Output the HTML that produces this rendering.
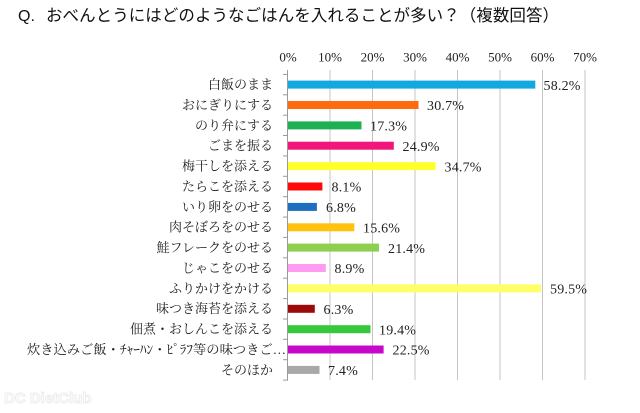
<!DOCTYPE html>
<html><head><meta charset="utf-8">
<style>
html,body{margin:0;padding:0;background:#fff;}
svg{display:block;}
.t{font-family:"Liberation Sans","Noto Sans CJK JP",sans-serif;}
.lab{font-family:"Liberation Serif","Noto Serif CJK SC",serif;font-size:13px;fill:#222;}
.val{font-family:"Liberation Serif","Noto Serif CJK SC",serif;font-size:14px;fill:#222;letter-spacing:0.2px;}
.tick{font-family:"Liberation Serif",serif;font-size:13px;fill:#222;}
</style></head>
<body>
<svg width="640" height="413" viewBox="0 0 640 413" xmlns="http://www.w3.org/2000/svg">
<rect width="640" height="413" fill="#fff"/>
<text x="18" y="21" class="t" font-size="16" fill="#111">Q.</text>
<text x="46" y="21" class="t" font-size="16.5" fill="#111" textLength="513" lengthAdjust="spacing">おべんとうにはどのようなごはんを入れることが多い？（複数回答）</text>

<!-- tick labels -->
<g class="tick" text-anchor="middle">
<text x="288" y="61.5">0%</text>
<text x="330" y="61.5">10%</text>
<text x="372.5" y="61.5">20%</text>
<text x="415" y="61.5">30%</text>
<text x="457.5" y="61.5">40%</text>
<text x="500" y="61.5">50%</text>
<text x="542.5" y="61.5">60%</text>
<text x="585" y="61.5">70%</text>
</g>

<!-- gridlines -->
<g stroke="#c4c4c4" stroke-width="1">
<line x1="330" y1="70" x2="330" y2="380"/>
<line x1="372.5" y1="70" x2="372.5" y2="380"/>
<line x1="415" y1="70" x2="415" y2="380"/>
<line x1="457.5" y1="70" x2="457.5" y2="380"/>
<line x1="500" y1="70" x2="500" y2="380"/>
<line x1="542.5" y1="70" x2="542.5" y2="380"/>
<line x1="585" y1="70" x2="585" y2="380"/>
</g>
<!-- axis -->
<g stroke="#9a9a9a" stroke-width="1">
<line x1="287.5" y1="70" x2="287.5" y2="380.5"/>
<line x1="283" y1="74.4" x2="288" y2="74.4"/>
<line x1="283" y1="94.8" x2="288" y2="94.8"/>
<line x1="283" y1="115.2" x2="288" y2="115.2"/>
<line x1="283" y1="135.5" x2="288" y2="135.5"/>
<line x1="283" y1="155.9" x2="288" y2="155.9"/>
<line x1="283" y1="176.3" x2="288" y2="176.3"/>
<line x1="283" y1="196.7" x2="288" y2="196.7"/>
<line x1="283" y1="217.1" x2="288" y2="217.1"/>
<line x1="283" y1="237.4" x2="288" y2="237.4"/>
<line x1="283" y1="257.8" x2="288" y2="257.8"/>
<line x1="283" y1="278.2" x2="288" y2="278.2"/>
<line x1="283" y1="298.6" x2="288" y2="298.6"/>
<line x1="283" y1="319" x2="288" y2="319"/>
<line x1="283" y1="339.3" x2="288" y2="339.3"/>
<line x1="283" y1="359.7" x2="288" y2="359.7"/>
<line x1="283" y1="380.1" x2="288" y2="380.1"/>
</g>

<!-- bars -->
<rect x="288" y="80.6" width="247.3" height="8" fill="#12A9E0"/>
<rect x="288" y="101" width="130.5" height="8" fill="#FF6A0F"/>
<rect x="288" y="121.4" width="73.5" height="8" fill="#1DB152"/>
<rect x="288" y="141.7" width="105.8" height="8" fill="#F0167A"/>
<rect x="288" y="162.1" width="147.5" height="8" fill="#FFFF2E"/>
<rect x="288" y="182.5" width="34.4" height="8" fill="#FF0A0A"/>
<rect x="288" y="202.9" width="28.9" height="8" fill="#1F6FC0"/>
<rect x="288" y="223.3" width="66.3" height="8" fill="#FFC20E"/>
<rect x="288" y="243.6" width="91" height="8" fill="#8FCF4F"/>
<rect x="288" y="264" width="37.8" height="8" fill="#FF9BF0"/>
<rect x="288" y="284.4" width="252.9" height="8" fill="#FFFF66"/>
<rect x="288" y="304.8" width="26.8" height="8" fill="#9C0A0A"/>
<rect x="288" y="325.2" width="82.5" height="8" fill="#36C73A"/>
<rect x="288" y="345.5" width="95.6" height="8" fill="#C808C8"/>
<rect x="288" y="365.9" width="31.5" height="8" fill="#A8A8A8"/>

<!-- value labels -->
<g class="val">
<text x="543.5" y="89.8">58.2%</text>
<text x="427" y="110.2">30.7%</text>
<text x="370" y="130.6">17.3%</text>
<text x="402.5" y="150.9">24.9%</text>
<text x="444.5" y="171.3">34.7%</text>
<text x="331.5" y="191.7">8.1%</text>
<text x="326" y="212.1">6.8%</text>
<text x="363" y="232.5">15.6%</text>
<text x="388" y="252.8">21.4%</text>
<text x="334.5" y="273.2">8.9%</text>
<text x="550" y="293.6">59.5%</text>
<text x="323.5" y="314">6.3%</text>
<text x="379" y="334.4">19.4%</text>
<text x="392.5" y="354.7">22.5%</text>
<text x="328" y="375.1">7.4%</text>
</g>

<!-- category labels -->
<g class="lab" text-anchor="end">
<text x="273" y="89">白飯のまま</text>
<text x="273" y="109.4">おにぎりにする</text>
<text x="273" y="129.8">のり弁にする</text>
<text x="273" y="150.1">ごまを振る</text>
<text x="273" y="170.5">梅干しを添える</text>
<text x="273" y="190.9">たらこを添える</text>
<text x="273" y="211.3">いり卵をのせる</text>
<text x="273" y="231.7">肉そぼろをのせる</text>
<text x="273" y="252">鮭フレークをのせる</text>
<text x="273" y="272.4">じゃこをのせる</text>
<text x="273" y="292.8">ふりかけをかける</text>
<text x="273" y="313.2">味つき海苔を添える</text>
<text x="273" y="333.6">佃煮・おしんこを添える</text>
<text x="273" y="374.3">そのほか</text>
</g>
<text x="27" y="353.9" class="lab" textLength="259" lengthAdjust="spacingAndGlyphs">炊き込みご飯・ﾁｬｰﾊﾝ・ﾋﾟﾗﾌ等の味つきご…</text>

<!-- watermark -->
<text x="4" y="403" font-family="Liberation Sans,sans-serif" font-size="15" font-weight="bold" fill="none" stroke="#ececec" stroke-width="1">DC DietClub</text>
</svg>
</body></html>
